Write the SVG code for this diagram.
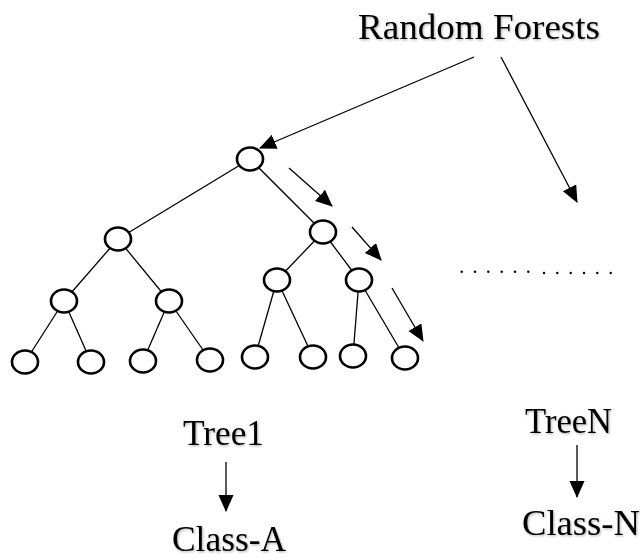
<svg xmlns="http://www.w3.org/2000/svg" width="641" height="559" viewBox="0 0 641 559">
  <style>
    .node ellipse { fill: #fff; stroke: #000; stroke-width: 2.6; }
    .edge { stroke: #000; stroke-width: 1.3; fill: none; }
    .arrow { stroke: #000; stroke-width: 1.3; fill: none; marker-end: url(#head); }
    .label { font-family: "Liberation Serif", "Times New Roman", serif; font-size: 35px; fill: #000; text-anchor: middle; filter: url(#soft); }
    .dot { fill: #000; }
  </style>
  <defs>
    <marker id="head" markerUnits="userSpaceOnUse" markerWidth="18" markerHeight="16" refX="16" refY="7.5" orient="auto">
      <path d="M0,0 L17,7.5 L0,15 z" fill="#000"/>
    </marker>
    <filter id="soft" x="-10%" y="-20%" width="130%" height="150%">
      <feDropShadow dx="1" dy="1.2" stdDeviation="0.8" flood-color="#000" flood-opacity="0.3"/>
    </filter>
  </defs>

  <!-- tree branches and arrows -->
  <g id="connectors">
    <line class="edge" x1="250" y1="159" x2="118" y2="239"/>
    <line class="edge" x1="250" y1="159" x2="323" y2="232"/>
    <line class="edge" x1="118" y1="239" x2="64" y2="301"/>
    <line class="edge" x1="118" y1="239" x2="169" y2="301"/>
    <line class="edge" x1="64" y1="301" x2="25" y2="362"/>
    <line class="edge" x1="64" y1="301" x2="91" y2="362"/>
    <line class="edge" x1="169" y1="301" x2="143" y2="361"/>
    <line class="edge" x1="169" y1="301" x2="210" y2="360"/>
    <line class="edge" x1="323" y1="232" x2="277" y2="280"/>
    <line class="edge" x1="323" y1="232" x2="359" y2="280"/>
    <line class="edge" x1="277" y1="280" x2="255" y2="357"/>
    <line class="edge" x1="277" y1="280" x2="313" y2="357"/>
    <line class="edge" x1="359" y1="280" x2="353" y2="356"/>
    <line class="edge" x1="359" y1="280" x2="405" y2="358"/>

    <line class="arrow" x1="474" y1="57" x2="260" y2="148"/>
    <line class="arrow" x1="501" y1="57" x2="577" y2="202"/>
    <line class="arrow" x1="289" y1="168" x2="332" y2="206"/>
    <line class="arrow" x1="352" y1="227" x2="381" y2="260"/>
    <line class="arrow" x1="392" y1="288" x2="423" y2="341"/>
    <line class="arrow" x1="226" y1="462" x2="226" y2="511"/>
    <line class="arrow" x1="577" y1="445" x2="577" y2="497"/>
  </g>

  <g id="root" class="node"><ellipse cx="250" cy="159" rx="13" ry="11.5"/></g>
  <g id="n-l" class="node"><ellipse cx="118" cy="239" rx="13" ry="11.5"/></g>
  <g id="n-r" class="node"><ellipse cx="323" cy="232" rx="13" ry="11.5"/></g>
  <g id="n-ll" class="node"><ellipse cx="64" cy="301" rx="13" ry="11.5"/></g>
  <g id="n-lr" class="node"><ellipse cx="169" cy="301" rx="13" ry="11.5"/></g>
  <g id="n-rl" class="node"><ellipse cx="277" cy="280" rx="13" ry="11.5"/></g>
  <g id="n-rr" class="node"><ellipse cx="359" cy="280" rx="13" ry="11.5"/></g>
  <g id="leaf1" class="node"><ellipse cx="25" cy="362" rx="13" ry="11.5"/></g>
  <g id="leaf2" class="node"><ellipse cx="91" cy="362" rx="13" ry="11.5"/></g>
  <g id="leaf3" class="node"><ellipse cx="143" cy="361" rx="13" ry="11.5"/></g>
  <g id="leaf4" class="node"><ellipse cx="210" cy="360" rx="13" ry="11.5"/></g>
  <g id="leaf5" class="node"><ellipse cx="255" cy="357" rx="13" ry="11.5"/></g>
  <g id="leaf6" class="node"><ellipse cx="313" cy="357" rx="13" ry="11.5"/></g>
  <g id="leaf7" class="node"><ellipse cx="353" cy="356" rx="13" ry="11.5"/></g>
  <g id="leaf8" class="node"><ellipse cx="405" cy="358" rx="13" ry="11.5"/></g>

  <g id="title"><text class="label" x="479" y="39" textLength="242" lengthAdjust="spacingAndGlyphs">Random Forests</text></g>
  <g id="tree1"><text class="label" x="223.5" y="445" textLength="81" lengthAdjust="spacingAndGlyphs">Tree1</text></g>
  <g id="class-a"><text class="label" x="229" y="551" textLength="114" lengthAdjust="spacingAndGlyphs">Class-A</text></g>
  <g id="treen"><text class="label" x="568.5" y="433" textLength="87" lengthAdjust="spacingAndGlyphs">TreeN</text></g>
  <g id="class-n"><text class="label" x="581" y="535" textLength="118" lengthAdjust="spacingAndGlyphs">Class-N</text></g>

  <g id="ellipsis">
    <circle class="dot" cx="461.7" cy="271.7" r="1.2"/>
    <circle class="dot" cx="475" cy="271.7" r="1.2"/>
    <circle class="dot" cx="488.3" cy="271.7" r="1.2"/>
    <circle class="dot" cx="501.7" cy="271.7" r="1.2"/>
    <circle class="dot" cx="515" cy="271.7" r="1.2"/>
    <circle class="dot" cx="528.3" cy="271.7" r="1.2"/>
    <circle class="dot" cx="544" cy="273" r="1.2"/>
    <circle class="dot" cx="557.3" cy="273" r="1.2"/>
    <circle class="dot" cx="570.7" cy="273" r="1.2"/>
    <circle class="dot" cx="584" cy="273" r="1.2"/>
    <circle class="dot" cx="597.3" cy="273" r="1.2"/>
    <circle class="dot" cx="610.7" cy="273" r="1.2"/>
  </g>
</svg>
